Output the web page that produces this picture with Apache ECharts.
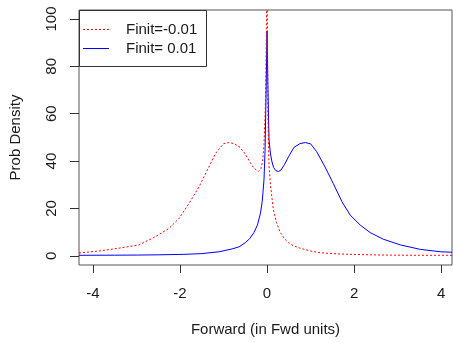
<!DOCTYPE html>
<html>
<head>
<meta charset="utf-8">
<script src="https://cdn.jsdelivr.net/npm/echarts@6/dist/echarts.min.js"></script>
<style>html,body{margin:0;padding:0;background:#fff}#c{width:453px;height:342px}</style>
</head>
<body>
<div id="c"></div>
<script>
var xTicks = [-4, -2, 0, 2, 4];
var yTicks = [0, 20, 40, 60, 80, 100];
var seriesNames = ['Finit=-0.01', 'Finit= 0.01'];

var redX = [-4.32,-3.86,-3.4,-2.94,-2.56,-2.25,-2.02,-1.79,-1.56,-1.37,-1.18,-1.0,-0.88,-0.76,-0.62,-0.5,-0.39,-0.3,-0.2,-0.14,-0.1,-0.07,-0.04,-0.02,0,0.02,0.046,0.08,0.11,0.15,0.22,0.3,0.4,0.5,0.6,0.76,1.0,1.22,1.5,1.91,2.5,2.98,3.5,4.25];
var redY = [1.2,2.0,3.2,4.6,8.1,11.6,15.8,22.2,29.2,36.2,43.3,47.3,47.8,47.4,45.8,43,39.5,37,35.6,36.8,40,47,62,85,125,60,38,30,25,19,14,10,7.2,5.5,4.3,3.2,2.0,1.3,0.9,0.6,0.35,0.25,0.2,0.2];

var blueX = [-4.32,-3.5,-2.98,-2.5,-1.91,-1.5,-1.1,-0.8,-0.64,-0.5,-0.4,-0.3,-0.22,-0.15,-0.11,-0.07,-0.046,-0.02,0,0.02,0.046,0.08,0.11,0.15,0.2,0.26,0.32,0.4,0.5,0.62,0.76,0.88,1.0,1.14,1.33,1.52,1.72,1.91,2.14,2.37,2.67,3.06,3.52,3.98,4.25];
var blueY = [0.2,0.25,0.3,0.4,0.6,0.9,1.7,2.9,3.8,5.5,7.2,9.8,13,18,23,32,44,70,95,72,49,43,40,37.3,36,35.6,36.2,38.5,42,45.8,47.4,47.8,47.3,44,37.6,30.6,22.9,17.2,13,9.8,7.0,4.6,2.7,1.7,1.5];

function pairs(xs, ys) { return xs.map(function (x, i) { return [x, ys[i]]; }); }

var FONT = 'Liberation Sans, Arial, sans-serif';
var chart = echarts.init(document.getElementById('c'), null, {renderer: 'canvas'});
chart.setOption({
  animation: false,
  backgroundColor: '#fff',
  grid: {left: 79, right: 1, top: 10, bottom: 77, show: true, borderColor: '#555', borderWidth: 1, backgroundColor: 'transparent'},
  graphic: [
    {type: 'rect', z: 10, shape: {x: 79.5, y: 10.5, width: 127, height: 56}, style: {fill: '#fff', stroke: '#333', lineWidth: 1}},
    {type: 'line', z: 11, shape: {x1: 83, y1: 29.5, x2: 109, y2: 29.5}, style: {stroke: '#ff0000', lineWidth: 1, lineDash: [2, 2]}},
    {type: 'line', z: 11, shape: {x1: 83, y1: 48.5, x2: 109, y2: 48.5}, style: {stroke: '#0000ff', lineWidth: 1}},
    {type: 'text', z: 11, x: 126, y: 30, style: {text: seriesNames[0], font: '15px ' + FONT, fill: '#1a1a1a', verticalAlign: 'middle'}},
    {type: 'text', z: 11, x: 126, y: 49, style: {text: seriesNames[1], font: '15px ' + FONT, fill: '#1a1a1a', verticalAlign: 'middle'}}
  ],
  xAxis: {
    type: 'value', min: -4.32, max: 4.25,
    name: 'Forward (in Fwd units)', nameLocation: 'middle', nameGap: 57,
    nameTextStyle: {fontFamily: FONT, fontSize: 15, color: '#1a1a1a'},
    axisLine: {show: false, onZero: false},
    splitLine: {show: false},
    axisTick: {show: true, length: 8, lineStyle: {color: '#333'}, customValues: xTicks},
    axisLabel: {fontFamily: FONT, fontSize: 15, color: '#1a1a1a', margin: 21, customValues: xTicks}
  },
  yAxis: {
    type: 'value', min: -3.9, max: 103.8,
    name: 'Prob Density', nameLocation: 'middle', nameGap: 56, nameRotate: 90,
    nameTextStyle: {fontFamily: FONT, fontSize: 15, color: '#1a1a1a'},
    axisLine: {show: false, onZero: false},
    splitLine: {show: false},
    axisTick: {show: true, length: 9, lineStyle: {color: '#333'}, customValues: yTicks},
    axisLabel: {fontFamily: FONT, fontSize: 15, color: '#1a1a1a', margin: 20, rotate: 90, customValues: yTicks}
  },
  series: [
    {name: seriesNames[0], type: 'line', data: pairs(redX, redY), showSymbol: false, symbol: 'none', clip: true,
     lineStyle: {color: '#ff0000', width: 1, type: [2, 2]}, itemStyle: {color: '#ff0000'}, z: 3},
    {name: seriesNames[1], type: 'line', data: pairs(blueX, blueY), showSymbol: false, symbol: 'none', clip: true,
     lineStyle: {color: '#0000ff', width: 1}, itemStyle: {color: '#0000ff'}, z: 2}
  ]
});
</script>
</body>
</html>
